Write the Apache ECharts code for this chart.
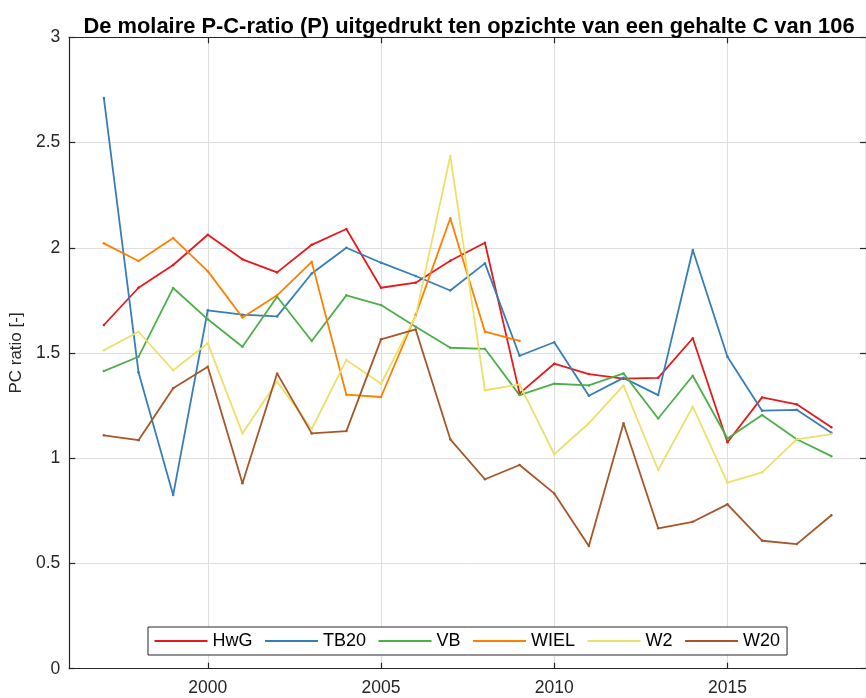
<!DOCTYPE html>
<html>
<head>
<meta charset="utf-8">
<script src="https://cdn.jsdelivr.net/npm/echarts@6/dist/echarts.min.js"></script>
<style>
html,body{margin:0;padding:0;background:#fff;}
#chart{width:866px;height:698px;}
</style>
</head>
<body>
<div id="chart"></div>
<script>
const years = [1997,1998,1999,2000,2001,2002,2003,2004,2005,2006,2007,2008,2009,2010,2011,2012,2013,2014,2015,2016,2017,2018];
const HwG  = [1.633,1.810,1.918,2.062,1.945,1.883,2.014,2.089,1.810,1.834,1.938,2.024,1.308,1.449,1.400,1.378,1.382,1.570,1.076,1.289,1.256,1.147];
const TB20 = [2.711,1.408,0.825,1.703,1.682,1.674,1.878,2.000,1.929,1.866,1.797,1.926,1.487,1.551,1.297,1.382,1.300,1.989,1.482,1.226,1.230,1.121];
const VB   = [1.414,1.482,1.809,1.660,1.530,1.767,1.557,1.774,1.728,1.625,1.525,1.520,1.300,1.354,1.346,1.403,1.189,1.392,1.094,1.205,1.090,1.010];
const WIEL = [2.021,1.937,2.046,1.889,1.669,1.774,1.933,1.302,1.291,1.680,2.140,1.601,1.558];
const W2   = [1.513,1.601,1.418,1.546,1.118,1.364,1.139,1.467,1.354,1.675,2.436,1.323,1.351,1.019,1.166,1.346,0.944,1.245,0.884,0.933,1.090,1.115];
const W20  = [1.109,1.086,1.333,1.435,0.881,1.403,1.118,1.129,1.565,1.612,1.090,0.900,0.968,0.833,0.583,1.166,0.667,0.698,0.781,0.608,0.592,0.729];
const seriesNames = ['HwG','TB20','VB','WIEL','W2','W20'];
const seriesValues = [HwG,TB20,VB,WIEL,W2,W20];
const colors = ['#e41a1c','#377eb8','#4daf4a','#ff7f00','#ede06a','#a65628'];
const xTicks = [2000,2005,2010,2015];
const yTicks = [0,0.5,1,1.5,2,2.5,3];
const titleText = 'De molaire P-C-ratio (P) uitgedrukt ten opzichte van een gehalte C van 106';
const yName = 'PC ratio [-]';

const chart = echarts.init(document.getElementById('chart'), null, {renderer:'canvas'});
const axisColor = '#262626';
const gridColor = '#dedede';
const font = 'Liberation Sans, Arial, Helvetica, sans-serif';

const series = seriesNames.map((n, i) => ({
  name: n,
  type: 'line',
  data: seriesValues[i].map((v, j) => [years[j], v]),
  symbol: 'circle',
  symbolSize: 2.5,
  showSymbol: true,
  lineStyle: {width: 1.8, color: colors[i]},
  itemStyle: {color: colors[i]},
  emphasis: {disabled: true},
  animation: false,
  z: 3
}));

chart.setOption({
  animation: false,
  backgroundColor: '#fff',
  title: {
    text: titleText,
    left: 464, textAlign: 'center',
    top: 11,
    textStyle: {fontFamily: font, fontWeight: 'bold', fontSize: 21.9, color: '#000'}
  },
  grid: {left: 66.7, right: -2.7, top: 37.3, bottom: 29.3, containLabel: false},
  legend: {
    left: 148, top: 627,
    orient: 'horizontal',
    data: seriesNames,
    icon: 'rect',
    itemWidth: 53, itemHeight: 2,
    itemGap: 12.5,
    padding: [5, 7, 5, 6.5],
    borderColor: axisColor, borderWidth: 1,
    backgroundColor: '#fff',
    textStyle: {fontFamily: font, fontSize: 18, color: '#000', padding: [0,0,0,0]},
    z: 10
  },
  xAxis: [{
    type: 'value', min: 1996, max: 2019, position: 'bottom',
    axisLine: {show: true, onZero: false, lineStyle: {color: axisColor, width: 1.2}},
    axisTick: {show: true, inside: true, length: 6, customValues: xTicks, lineStyle: {color: axisColor, width: 1.2}},
    axisLabel: {customValues: xTicks, margin: 10, fontFamily: font, fontSize: 17.5, color: axisColor, formatter: v => String(v)},
    splitLine: {show: true, lineStyle: {color: gridColor, width: 1}}
  }, {
    type: 'value', min: 1996, max: 2019, position: 'top',
    axisLine: {show: true, onZero: false, lineStyle: {color: axisColor, width: 1.2}},
    axisTick: {show: true, inside: true, length: 6, customValues: xTicks, lineStyle: {color: axisColor, width: 1.2}},
    axisLabel: {show: false},
    splitLine: {show: false}
  }],
  yAxis: [{
    type: 'value', min: 0, max: 3, interval: 0.5, position: 'left',
    name: yName, nameLocation: 'middle', nameGap: 37, nameRotate: 90,
    nameTextStyle: {fontFamily: font, fontSize: 17, color: axisColor},
    axisLine: {show: true, onZero: false, lineStyle: {color: axisColor, width: 1.2}},
    axisTick: {show: true, inside: true, length: 6, lineStyle: {color: axisColor, width: 1.2}},
    axisLabel: {margin: 9, fontFamily: font, fontSize: 17.5, color: axisColor, customValues: yTicks},
    splitLine: {show: true, lineStyle: {color: gridColor, width: 1}}
  }, {
    type: 'value', min: 0, max: 3, interval: 0.5, position: 'right',
    axisLine: {show: true, onZero: false, lineStyle: {color: axisColor, width: 1.2}},
    axisTick: {show: true, inside: true, length: 6, lineStyle: {color: axisColor, width: 1.2}},
    axisLabel: {show: false},
    splitLine: {show: false}
  }],
  series: series
});
</script>
</body>
</html>
